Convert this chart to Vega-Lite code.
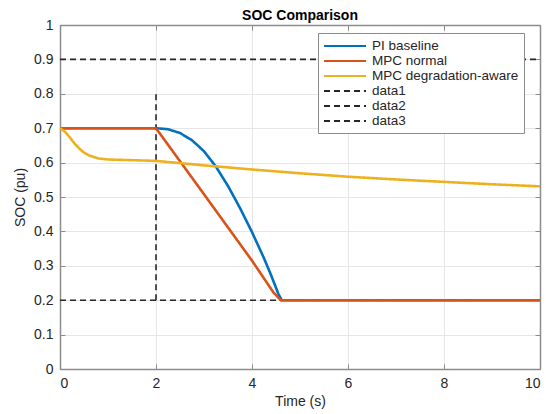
{
  "$schema": "https://vega.github.io/schema/vega-lite/v6.json",
  "width": 480,
  "height": 344,
  "autosize": {"type": "none"},
  "padding": {"left": 60, "top": 25, "right": 6, "bottom": 45},
  "title": {"text": "SOC Comparison", "fontSize": 14, "fontWeight": "bold", "font": "Liberation Sans", "color": "#000000", "offset": 5, "dy": 10},
  "config": {
    "view": {"stroke": null},
    "font": "Liberation Sans",
    "axis": {
      "labelFont": "Liberation Sans",
      "labelFontSize": 14,
      "labelColor": "#262626",
      "titleFont": "Liberation Sans",
      "titleFontSize": 14,
      "titleFontWeight": "normal",
      "titleColor": "#262626",
      "domainColor": "#8c8c8c",
      "domainWidth": 1.5,
      "tickColor": "#8c8c8c",
      "tickSize": -5,
      "gridColor": "#e6e6e6",
      "gridWidth": 1
    },
    "legend": {
      "labelFont": "Liberation Sans",
      "labelFontSize": 13.5,
      "labelColor": "#262626"
    }
  },
  "datasets": {
    "refs": [
      {"series": "data1", "t": 0, "soc": 0.9},
      {"series": "data1", "t": 10, "soc": 0.9},
      {"series": "data2", "t": 0, "soc": 0.2},
      {"series": "data2", "t": 10, "soc": 0.2},
      {"series": "data3", "t": 2, "soc": 0.2},
      {"series": "data3", "t": 2, "soc": 0.8}
    ],
    "curves": [
      {"series": "PI baseline", "t": 0, "soc": 0.7},
      {"series": "PI baseline", "t": 2, "soc": 0.7},
      {"series": "PI baseline", "t": 2.25, "soc": 0.697},
      {"series": "PI baseline", "t": 2.5, "soc": 0.686},
      {"series": "PI baseline", "t": 2.75, "soc": 0.665},
      {"series": "PI baseline", "t": 3.0, "soc": 0.633},
      {"series": "PI baseline", "t": 3.25, "soc": 0.588},
      {"series": "PI baseline", "t": 3.5, "soc": 0.532},
      {"series": "PI baseline", "t": 3.75, "soc": 0.468},
      {"series": "PI baseline", "t": 4.0, "soc": 0.398},
      {"series": "PI baseline", "t": 4.25, "soc": 0.322},
      {"series": "PI baseline", "t": 4.4, "soc": 0.272},
      {"series": "PI baseline", "t": 4.55, "soc": 0.218},
      {"series": "PI baseline", "t": 4.62, "soc": 0.2},
      {"series": "PI baseline", "t": 10, "soc": 0.2},
      {"series": "MPC normal", "t": 0, "soc": 0.7},
      {"series": "MPC normal", "t": 2, "soc": 0.7},
      {"series": "MPC normal", "t": 3, "soc": 0.508},
      {"series": "MPC normal", "t": 4, "soc": 0.315},
      {"series": "MPC normal", "t": 4.45, "soc": 0.222},
      {"series": "MPC normal", "t": 4.6, "soc": 0.2},
      {"series": "MPC normal", "t": 10, "soc": 0.2},
      {"series": "MPC degradation-aware", "t": 0, "soc": 0.7},
      {"series": "MPC degradation-aware", "t": 0.1, "soc": 0.69},
      {"series": "MPC degradation-aware", "t": 0.2, "soc": 0.674},
      {"series": "MPC degradation-aware", "t": 0.3, "soc": 0.656},
      {"series": "MPC degradation-aware", "t": 0.4, "soc": 0.641},
      {"series": "MPC degradation-aware", "t": 0.5, "soc": 0.629},
      {"series": "MPC degradation-aware", "t": 0.6, "soc": 0.621},
      {"series": "MPC degradation-aware", "t": 0.8, "soc": 0.612},
      {"series": "MPC degradation-aware", "t": 1.0, "soc": 0.609},
      {"series": "MPC degradation-aware", "t": 1.5, "soc": 0.607},
      {"series": "MPC degradation-aware", "t": 2.0, "soc": 0.605},
      {"series": "MPC degradation-aware", "t": 3.0, "soc": 0.592},
      {"series": "MPC degradation-aware", "t": 4.0, "soc": 0.58},
      {"series": "MPC degradation-aware", "t": 5.0, "soc": 0.569},
      {"series": "MPC degradation-aware", "t": 6.0, "soc": 0.559},
      {"series": "MPC degradation-aware", "t": 7.0, "soc": 0.551},
      {"series": "MPC degradation-aware", "t": 8.0, "soc": 0.544},
      {"series": "MPC degradation-aware", "t": 9.0, "soc": 0.537},
      {"series": "MPC degradation-aware", "t": 10.0, "soc": 0.531}
    ]
  },
  "layer": [
    {
      "data": {"name": "refs"},
      "mark": {"type": "line", "strokeWidth": 1.6, "clip": true},
      "encoding": {
        "x": {"field": "t", "type": "quantitative", "scale": {"domain": [0, 10], "nice": false},
              "axis": {"orient": "bottom", "values": [0, 2, 4, 6, 8, 10], "title": "Time (s)", "labelPadding": 12, "titlePadding": 4, "grid": true}},
        "y": {"field": "soc", "type": "quantitative", "scale": {"domain": [0, 1], "nice": false},
              "axis": {"orient": "left", "values": [0, 0.1, 0.2, 0.3, 0.4, 0.5, 0.6, 0.7, 0.8, 0.9, 1], "format": "~g", "title": "SOC (pu)", "labelPadding": 12, "titlePadding": 6, "grid": true}},
        "color": {"field": "series", "type": "nominal",
                  "scale": {"domain": ["PI baseline", "MPC normal", "MPC degradation-aware", "data1", "data2", "data3"],
                            "range": ["#0072BD", "#D95319", "#EDB120", "#262626", "#262626", "#262626"]},
                  "legend": {"orient": "none", "legendX": 258, "legendY": 8, "title": null, "symbolType": "M-1,0H5", "symbolSize": 196, "symbolStrokeWidth": 2, "strokeColor": "#8c8c8c", "fillColor": "#ffffff", "padding": 5, "rowPadding": 0, "labelOffset": 33}},
        "strokeDash": {"field": "series", "type": "nominal",
                       "scale": {"domain": ["PI baseline", "MPC normal", "MPC degradation-aware", "data1", "data2", "data3"],
                                 "range": [[1, 0], [1, 0], [1, 0], [6, 4], [6, 4], [6, 4]]},
                       "legend": {"orient": "none", "legendX": 258, "legendY": 8, "title": null, "symbolType": "M-1,0H5", "symbolSize": 196, "symbolStrokeWidth": 2, "strokeColor": "#8c8c8c", "fillColor": "#ffffff", "padding": 5, "rowPadding": 0, "labelOffset": 33}},
        "order": {"value": null}
      }
    },
    {
      "data": {"name": "curves"},
      "mark": {"type": "line", "strokeWidth": 2.6},
      "encoding": {
        "x": {"field": "t", "type": "quantitative", "axis": null},
        "y": {"field": "soc", "type": "quantitative", "axis": null},
        "color": {"field": "series", "type": "nominal"},
        "strokeDash": {"field": "series", "type": "nominal"}
      }
    },
    {
      "data": {"name": "refs"},
      "mark": {"type": "line", "opacity": 0},
      "encoding": {
        "x": {"field": "t", "type": "quantitative",
              "axis": {"orient": "top", "values": [0, 2, 4, 6, 8, 10], "labels": false, "title": null, "grid": false, "labelPadding": 0, "minExtent": 0, "maxExtent": 0}},
        "y": {"field": "soc", "type": "quantitative",
              "axis": {"orient": "right", "values": [0, 0.1, 0.2, 0.3, 0.4, 0.5, 0.6, 0.7, 0.8, 0.9, 1], "labels": false, "title": null, "grid": false, "labelPadding": 0, "minExtent": 0, "maxExtent": 0}},
        "detail": {"field": "series"}
      }
    }
  ],
  "resolve": {"axis": {"x": "independent", "y": "independent"}}
}
